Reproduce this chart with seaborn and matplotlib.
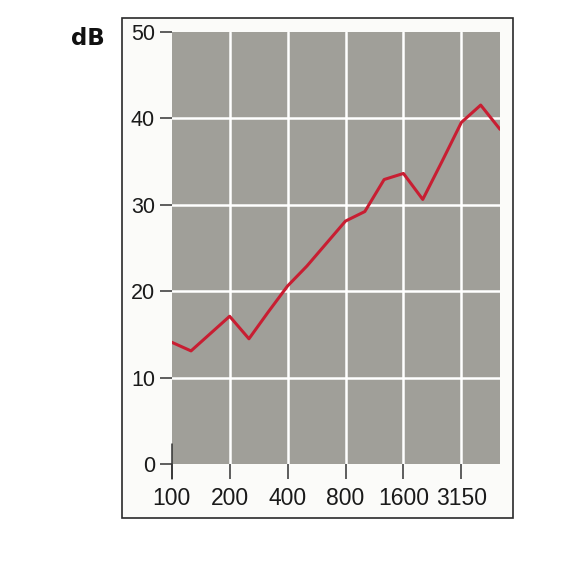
import matplotlib
matplotlib.use("Agg")
import matplotlib.pyplot as plt
from matplotlib.patches import Rectangle
import seaborn as sns
import pandas as pd

# third-octave bands
bands = [100, 125, 160, 200, 250, 315, 400, 500, 630, 800,
         1000, 1250, 1600, 2000, 2500, 3150, 4000, 5000]
values_db = [14.1, 13.1, 15.1, 17.1, 14.5, 17.6, 20.6, 22.9, 25.5, 28.1,
             29.2, 32.9, 33.6, 30.6, 35.0, 39.5, 41.5, 38.7]
tick_bands = [100, 200, 400, 800, 1600, 3150]
y_ticks = [0, 10, 20, 30, 40, 50]

df = pd.DataFrame({"band": bands, "db": values_db})
df["pos"] = [bands.index(b) for b in df["band"]]
tick_pos = [bands.index(b) for b in tick_bands]

sns.set_style("white")
plt.rcParams["font.family"] = ["Liberation Sans", "DejaVu Sans"]

W = 584
fig = plt.figure(figsize=(5.84, 5.84), dpi=100)
fig.patch.set_facecolor("white")

# outer frame
fig.patches.append(Rectangle((121.7 / W, 1 - 517.7 / W), 391 / W, 499.4 / W,
                             transform=fig.transFigure, facecolor="#fbfbf9",
                             edgecolor="#2a2a2a", linewidth=1.2, zorder=-10))

ax = fig.add_axes([171.7 / W, 1 - 464.3 / W, (500 - 171.7) / W, (464.3 - 31.5) / W])
ax.set_zorder(1)
ax.set_facecolor("#a09f99")

sns.lineplot(data=df, x="pos", y="db", ax=ax, color="#c81e32", linewidth=2.2, zorder=3)

ax.set_xlim(0, len(bands) - 1)
ax.set_ylim(0, 50)
ax.set_xticks(tick_pos)
ax.set_xticklabels([str(b) for b in tick_bands])
ax.set_yticks(y_ticks)
ax.set_yticklabels([str(v) for v in y_ticks])
ax.set_xlabel("")
ax.set_ylabel("")

for s in ax.spines.values():
    s.set_visible(False)

# white grid
for p in tick_pos[1:]:
    ax.axvline(p, color="white", linewidth=1.8, zorder=2)
for v in y_ticks[1:-1]:
    ax.axhline(v, color="white", linewidth=1.8, zorder=2)

ax.tick_params(axis="y", which="both", left=True, direction="out", length=8.5,
               width=1.1, color="#333333", pad=3.5, labelsize=15.5, labelcolor="#1a1a1a")
ax.tick_params(axis="x", which="both", bottom=True, direction="out", length=11,
               width=1.1, color="#333333", pad=5.5, labelsize=16.5, labelcolor="#1a1a1a")

# short left axis stub near zero
ax.axvline(0, ymin=-0.035, ymax=0.046, color="#333333", linewidth=1.1, clip_on=False, zorder=4)

fig.text(88 / W, 1 - 38.5 / W, "dB", fontsize=16.5, fontweight="bold",
         family="DejaVu Sans", ha="center", va="center", color="#111111")

fig.savefig("out.png", dpi=100, facecolor="white")
